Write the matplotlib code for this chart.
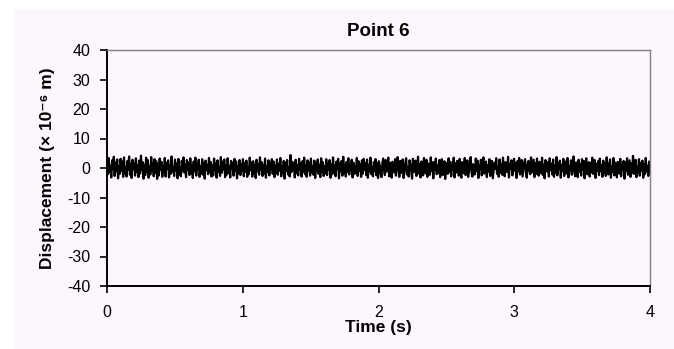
import numpy as np
import matplotlib.pyplot as plt
from matplotlib.patches import Rectangle

plt.rcParams['font.family'] = ['Liberation Sans', 'DejaVu Sans']
plt.rcParams['axes.unicode_minus'] = False

# displacement readings (x 10^-6 m), 0 to 4 s
disp = [
    1.2,-2.1,3.4,-1.5,0.8,-3.2,2.6,-0.4,3.8,-2.7,1.9,-1.1,2.9,-3.5,0.5,-2.0,3.1,-0.9,2.2,-3.0,
    3.6,-1.8,0.3,-2.9,2.4,-0.7,3.9,-2.3,1.4,-3.4,2.8,-0.2,1.7,-2.6,3.3,-1.4,0.9,-3.1,2.5,-1.9,
    4.2,-0.6,2.0,-3.6,1.1,-2.4,3.5,-1.2,2.7,-3.3,0.6,-2.2,3.7,-0.8,1.6,-2.8,3.0,-1.6,2.3,-3.7,
    1.3,-2.5,3.2,-0.5,2.1,-3.0,0.7,-1.7,3.4,-2.9,1.8,-0.3,2.6,-3.2,1.0,-2.0,3.9,-1.3,0.4,-2.7,
    2.9,-1.0,1.5,-3.5,3.1,-2.2,0.2,-2.8,2.4,-0.9,3.6,-1.5,1.2,-3.1,2.7,-0.6,1.9,-2.4,3.3,-1.8,
    0.8,-3.4,2.2,-1.1,3.5,-2.6,1.4,-0.4,2.8,-3.0,0.5,-1.9,3.0,-2.3,1.7,-3.6,2.5,-0.7,1.1,-2.1,
    3.4,-1.4,2.0,-2.9,0.9,-2.5,3.2,-0.8,1.6,-3.3,2.6,-1.2,0.3,-2.7,3.7,-1.6,2.1,-0.5,2.9,-3.1,
    1.0,-2.2,3.3,-1.7,0.6,-3.2,2.4,-0.3,1.8,-2.6,3.1,-1.0,2.2,-3.5,0.7,-1.8,2.7,-2.4,1.3,-0.9,
    3.0,-2.8,1.6,-1.3,2.5,-3.0,0.4,-2.1,3.5,-0.6,1.9,-2.9,2.3,-1.5,0.9,-3.4,2.8,-1.1,1.4,-2.3,
    3.6,-0.7,2.0,-2.7,1.1,-1.9,3.2,-3.3,0.5,-1.2,2.6,-2.5,1.7,-0.4,3.0,-2.0,2.2,-3.1,0.8,-1.6,
    2.9,-2.3,1.3,-0.8,3.4,-2.8,0.6,-1.7,2.4,-3.6,1.9,-1.0,2.7,-2.2,0.3,-2.9,4.4,-1.4,2.1,-0.6,
    1.5,-3.2,2.8,-1.8,0.9,-2.5,3.1,-0.5,1.7,-2.9,2.3,-1.3,3.5,-2.1,1.0,-3.0,2.6,-0.8,1.8,-2.6,
    3.2,-1.5,0.7,-2.3,2.5,-3.4,1.4,-0.9,2.9,-2.0,1.1,-3.1,3.3,-1.2,2.0,-2.7,0.5,-1.9,3.0,-2.4,
    1.6,-0.6,2.7,-3.3,1.2,-2.1,3.6,-1.6,0.8,-2.8,2.2,-0.4,3.1,-3.5,1.5,-1.1,2.4,-2.6,3.8,-1.7,
    0.9,-2.9,2.1,-1.4,3.3,-2.2,1.0,-0.7,2.8,-3.2,1.8,-2.0,0.6,-1.5,3.4,-2.7,2.3,-0.9,1.3,-3.0,
    2.6,-1.9,3.1,-0.5,1.7,-2.4,2.9,-3.3,1.1,-1.2,3.5,-2.1,0.4,-2.8,2.0,-1.0,3.0,-2.5,1.6,-3.4,
    2.3,0.8,-1.9,-3.1,1.4,3.2,-0.6,-2.4,2.7,-1.2,0.5,3.5,-2.8,-0.9,1.8,-3.3,2.1,0.2,-1.5,3.0,
    -2.6,1.1,3.7,-0.4,-3.0,2.4,-1.7,0.9,2.9,-3.4,-1.1,1.6,3.3,-2.2,0.4,-2.9,2.6,1.3,-0.8,-3.6,
    3.1,-1.4,0.7,2.5,-2.7,-0.3,3.8,-1.9,1.2,-3.2,2.2,0.6,-2.5,3.4,-0.7,-1.8,2.8,-3.0,1.5,0.1,
    -2.3,3.6,-1.0,1.9,-3.5,2.0,-0.5,3.2,-2.1,0.8,-1.6,2.7,-3.1,1.0,3.0,-2.4,-0.2,2.3,-3.7,1.7,
    0.3,-2.0,3.3,-1.3,2.1,-2.8,0.9,-0.6,3.5,-3.2,1.6,-1.5,2.4,0.5,-2.6,3.1,-0.9,-3.3,2.0,1.1,
    -1.8,3.4,-2.4,0.6,2.6,-3.0,-0.8,1.9,3.7,-1.5,-2.9,1.3,0.2,-2.2,3.2,-1.1,2.5,-3.4,0.8,-0.4,
    2.8,-2.5,1.5,3.6,-1.9,-0.5,2.2,-3.1,1.0,-1.2,3.0,-2.7,0.7,2.4,-3.5,-1.0,1.8,-0.3,3.3,-2.0,
    0.4,-3.0,2.9,-1.6,1.2,-2.3,3.5,-0.7,-2.8,2.0,0.9,-1.4,3.8,-3.2,1.4,-0.1,2.6,-2.5,-1.3,3.1,
    -0.8,1.7,-3.4,2.3,-1.1,3.4,-2.2,0.5,2.7,-2.9,-0.4,1.9,3.0,-1.7,-3.3,1.2,2.4,-0.6,-2.1,3.6,
    -1.5,0.8,2.8,-3.1,1.6,-2.0,3.2,-0.9,-2.6,2.1,0.3,-1.8,3.5,-2.4,1.1,-3.5,2.7,0.6,-1.2,2.0,
    -2.9,3.3,-0.5,1.4,-2.2,2.9,-3.0,0.9,-1.6,3.7,-2.5,1.8,-0.2,2.5,-3.3,1.0,-1.0,3.1,-2.7,0.4,
    2.2,-1.9,3.4,-3.2,0.7,-0.8,2.6,-2.3,1.5,3.9,-1.4,-2.8,1.9,0.1,-3.1,2.8,-1.2,1.3,-2.6,3.0,
    -0.6,2.4,-3.5,1.2,3.3,-2.1,-0.3,2.0,-2.9,1.7,-1.5,3.5,-2.0,0.6,2.7,-3.4,1.4,-0.9,2.3,-2.4,
    3.2,-1.1,0.9,-3.0,2.5,-1.7,1.6,-2.7,3.6,-0.4,-2.2,1.1,2.9,-3.3,0.5,-1.3,3.4,-2.5,1.8,-0.7,
    -3.2,2.1,0.8,-1.9,3.1,-2.8,1.3,-0.5,2.4,-3.6,1.9,-1.0,3.3,-2.3,0.2,2.6,-3.0,1.5,-1.6,4.1,
    -2.0,1.0,2.8,-3.1,0.6,-1.4,3.0,-2.6,1.7,-0.8,2.5,-3.3,1.2,-2.1,3.4,-1.2,0.7,-2.7,2.2,-1.5,
]
t_end = 4.0
dt = t_end / (len(disp) - 1)
t = np.arange(len(disp)) * dt

xticks = [0, 1, 2, 3, 4]
yticks = [-40, -30, -20, -10, 0, 10, 20, 30, 40]

bg = '#fdf6fd'
fig = plt.figure(figsize=(6.74, 3.49), dpi=100, facecolor='white')
fig.patches.append(Rectangle((15/674, 0), 1, 1 - 9/349, transform=fig.transFigure,
                             facecolor=bg, edgecolor='none', zorder=-1))
ax = fig.add_axes([107/674, 1 - 286/349, 543/674, 236/349])
ax.set_facecolor(bg)

ax.plot(t, disp, color='black', lw=1.6)

ax.set_xlim(0, 4)
ax.set_ylim(-40, 40)
ax.set_xticks(xticks)
ax.set_yticks(yticks)
ax.tick_params(direction='out', length=5, width=1.2, labelsize=11.5, colors='black')
ax.tick_params(axis='y', pad=7)
ax.tick_params(axis='x', pad=9)

for s in ['left', 'bottom']:
    ax.spines[s].set_color('black')
    ax.spines[s].set_linewidth(1.4)
for s in ['top', 'right']:
    ax.spines[s].set_color('#808080')
    ax.spines[s].set_linewidth(1.0)

ax.set_title('Point 6', fontsize=13.5, fontweight='bold', pad=10)
ax.set_xlabel('Time (s)', fontsize=12.5, fontweight='bold', labelpad=0)
ax.set_ylabel('Displacement (× 10⁻⁶ m)', fontsize=12.5, fontweight='bold', labelpad=9)

fig.savefig('out.png', dpi=100, facecolor='white')
